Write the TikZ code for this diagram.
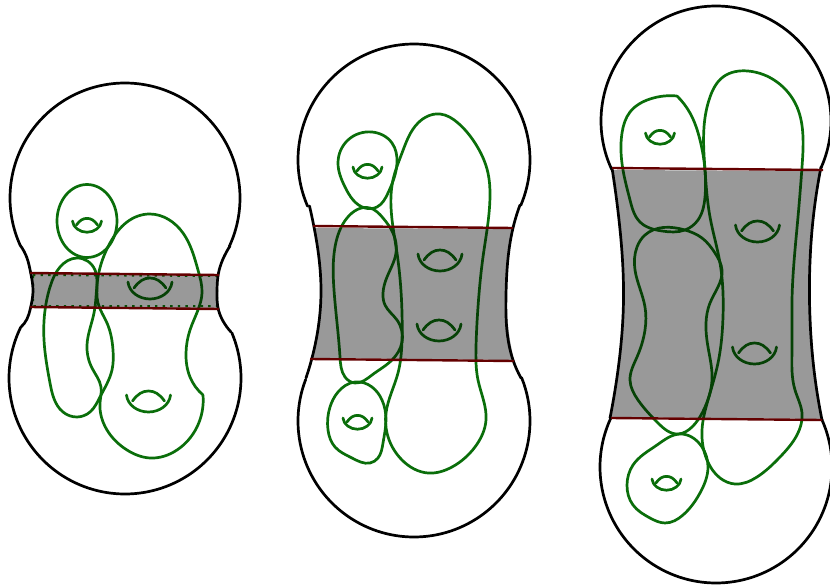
\documentclass[tikz,border=0pt]{standalone}
\usetikzlibrary{hobby}
\definecolor{gcurve}{RGB}{10,110,10}
\definecolor{redline}{RGB}{100,0,0}
\tikzset{
  curve/.style={draw=gcurve,line width=2.7pt,line join=round,line cap=round},
  outline/.style={draw=black,line width=2.7pt,line join=round,line cap=round},
  shade/.style={fill=black,fill opacity=0.4},
  cutline/.style={draw=redline,line width=2.4pt},
  loopc/.style={curve,use Hobby shortcut,closed=true},
  openc/.style={curve,use Hobby shortcut},
  neckc/.style={outline,use Hobby shortcut},
  pics/torus/.style={code={
    \draw[curve] (-22,0) .. controls (-21,10) and (-11,17) .. (0,17) .. controls (11,17) and (21,10) .. (22,0);
    \draw[curve] (-16,6) .. controls (-11,-1) and (-6,-4) .. (0,-4) .. controls (6,-4) and (11,-1) .. (16,6);
  }}
}
\newcommand{\arcpiece}[5]{\draw[outline] plot[domain=#4:#5,samples=90,smooth] ({#1+#3*cos(\x)},{#2-#3*sin(\x)});}
\begin{document}
\begin{tikzpicture}[x=1pt,y=-1pt]
\useasboundingbox (0,0) rectangle (830,586);
\clip (0,0) rectangle (830,586);
\fill[white] (0,0) rectangle (830,586);
% ---------- figure 1 curves
\draw[curve] (87,221) ellipse [x radius=30,y radius=36.5];
\draw[loopc] (77,258) .. (60,267) .. (50,287) .. (44,340) .. (50,383) .. (63,412) .. (77,417) .. (90,412) .. (100,397) .. (112,370) .. (113,350) .. (107,323) .. (98,303) .. (97,283) .. (95,270);
\draw[openc] (203,395) .. (190,377) .. (186,353) .. (190,330) .. (198,310) .. (202,293) .. (198,270) .. (183,233) .. (150,214) .. (127,222) .. (110,243) .. (98,277) .. (94,313) .. (87,345) .. (92,368) .. (101,387) .. (100,403) .. (107,430) .. (127,450) .. (150,458) .. (177,450) .. (197,427) .. (203,395);
\pic at (87,221) [scale=.66] {torus};
\pic at (150,282) {torus};
\pic at (148.5,395) {torus};
% ---------- figure 2 curves
\draw[loopc] (372,132) .. (348,140) .. (338,163) .. (345,187) .. (365,208) .. (377,207) .. (388,193) .. (397,163) .. (392,143);
\draw[loopc] (370,208) .. (347,218) .. (335,247) .. (334,290) .. (340,357) .. (345,377) .. (355,383) .. (372,375) .. (392,360) .. (402,342) .. (397,320) .. (385,305) .. (383,293) .. (387,277) .. (396,253) .. (393,233) .. (383,218);
\draw[loopc] (355,382) .. (338,392) .. (330,407) .. (328,430) .. (335,447) .. (352,458) .. (370,463) .. (378,458) .. (383,443) .. (386,420) .. (382,400) .. (372,387);
\draw[loopc] (440,114) .. (418,123) .. (402,153) .. (393,180) .. (391,207) .. (397,253) .. (402,313) .. (402,340) .. (398,373) .. (386,413) .. (387,433) .. (402,460) .. (428,473) .. (452,467) .. (475,447) .. (486,420) .. (478,380) .. (476,347) .. (478,307) .. (483,257) .. (490,195) .. (488,173) .. (475,143) .. (458,123);
\pic at (367.5,167) [scale=.66] {torus};
\pic at (440,254) {torus};
\pic at (439,324) {torus};
\pic at (357.5,418) [scale=.66] {torus};
% ---------- figure 3 curves
\draw[openc] (677,96) .. (650,99) .. (630,112) .. (622,133) .. (623,170) .. (630,200) .. (640,222) .. (662,231) .. (685,230) .. (698,220) .. (705,197) .. (705,170) .. (700,140) .. (690,113) .. (677,96);
\draw[loopc] (685,230) .. (645,235) .. (637,247) .. (635,270) .. (645,307) .. (645,330) .. (637,357) .. (630,380) .. (638,400) .. (658,423) .. (678,434) .. (692,427) .. (705,407) .. (712,380) .. (708,347) .. (706,323) .. (710,303) .. (722,270) .. (715,253) .. (702,238);
\draw[loopc] (680,434) .. (657,445) .. (633,465) .. (627,485) .. (633,505) .. (650,518) .. (665,523) .. (683,515) .. (700,493) .. (708,467) .. (702,447);
\draw[loopc] (748,71) .. (723,77) .. (710,97) .. (704,127) .. (705,170) .. (710,217) .. (720,263) .. (723,317) .. (718,363) .. (708,400) .. (702,430) .. (707,460) .. (720,478) .. (735,484) .. (757,477) .. (780,457) .. (797,435) .. (802,413) .. (795,390) .. (792,350) .. (792,300) .. (798,217) .. (802,167) .. (803,137) .. (797,107) .. (777,82);
\pic at (660,133) [scale=.66] {torus};
\pic at (757.5,225) {torus};
\pic at (754.5,347) {torus};
\pic at (666.5,479) [scale=.66] {torus};
% ---------- shaded bands
\fill[shade] (31,274) .. controls (33,285) and (33,295) .. (31,307) -- (219,309) .. controls (217,297) and (217,287) .. (219,275) -- cycle;
\fill[shade] (314,228) .. controls (323,270) and (323,310) .. (311,358) -- (514,360) .. controls (504,320) and (504,270) .. (513,229) -- cycle;
\fill[shade] (613,170) .. controls (626,240) and (626,340) .. (611,417) -- (822,419) .. controls (807,340) and (807,240) .. (821,171) -- cycle;
\draw[draw=gcurve!70!black,line width=2pt,dash pattern=on 2.4pt off 5.2pt] (33,275) -- (217,276) -- (217,306) -- (33,306) -- cycle;
% ---------- figure 1 outline
\arcpiece{125}{198}{115}{204}{-25}
\arcpiece{125}{378}{116}{154}{383}
\draw[neckc] (20,245) .. (27,258) .. (30.5,272) .. (33,290) .. (30.5,308) .. (27,319) .. (21,327);
\draw[neckc] (230,246) .. (223,259) .. (218.5,273) .. (217,290) .. (218.5,310) .. (223,321) .. (231,332);
% ---------- figure 2 outline
\arcpiece{414}{160}{116}{203.5}{-23}
\arcpiece{414}{421}{116}{159}{382}
\draw[neckc] (309.5,206) .. (314,227) .. (321,290) .. (312,358) .. (306,378);
\draw[neckc] (520,205) .. (513,228) .. (506,295) .. (513,360) .. (521,378);
% ---------- figure 3 outline
\arcpiece{716}{121}{115}{205}{-24}
\arcpiece{716}{467}{116}{155}{384}
\draw[neckc] (612,168) .. (619,220) .. (623.5,300) .. (618,370) .. (610,418);
\draw[neckc] (821,167) .. (813,220) .. (809.5,300) .. (814,370) .. (822,420);
% ---------- cut lines
\draw[cutline] (30,273) -- (219,275);
\draw[cutline] (30,307) -- (219,309);
\draw[cutline] (313,226) -- (513,228);
\draw[cutline] (310,359) -- (514,361);
\draw[cutline] (612,168) -- (823,170);
\draw[cutline] (611,418) -- (822,420);
\end{tikzpicture}
\end{document}
